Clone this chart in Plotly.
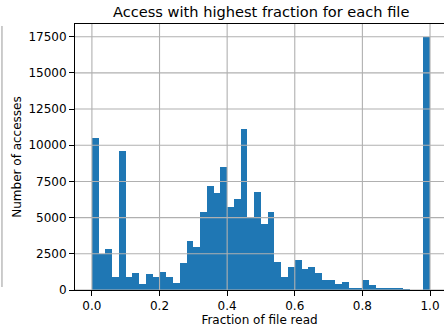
import numpy as np
import plotly.graph_objects as go

# Histogram: 50 bins over [0, 1]
bin_start = 0.0
bin_width = 0.02
counts = [10500, 2480, 2850, 870, 9610, 920, 1200, 440, 1130, 870,
          1265, 870, 510, 1890, 3360, 2990, 5400, 7200, 6720, 8510,
          5750, 6300, 11130, 5060, 6785, 4580, 5400, 1955, 920, 1610,
          2090, 1470, 1610, 1200, 713, 713, 437, 575, 161, 92,
          713, 360, 161, 92, 92, 92, 10, 0, 0, 17460]
x_ticks = [0.0, 0.2, 0.4, 0.6, 0.8, 1.0]
x_ticklabels = ["0.0", "0.2", "0.4", "0.6", "0.8", "1.0"]
y_ticks = [0, 2500, 5000, 7500, 10000, 12500, 15000, 17500]
y_ticklabels = [str(v) for v in y_ticks]

centers = [bin_start + bin_width * (i + 0.5) for i in range(len(counts))]

W, H = 444, 327
ml, mr, mt, mb = 74.6, 0, 24, 36.7
font = "DejaVu Sans"
fs = 12
lw = 1.1

fig = go.Figure()
fig.add_trace(go.Bar(x=centers, y=counts, width=bin_width,
                     marker=dict(color="#1f77b4", line=dict(width=0)),
                     hoverinfo="skip"))

shapes = []
for v in x_ticks:
    shapes.append(dict(type="line", xref="x", yref="paper", x0=v, x1=v, y0=0, y1=1,
                       line=dict(color="#b0b0b0", width=lw), layer="above"))
for v in y_ticks:
    shapes.append(dict(type="line", xref="paper", yref="y", x0=0, x1=1, y0=v, y1=v,
                       line=dict(color="#b0b0b0", width=lw), layer="above"))
# faint vertical line at far left (neighbouring panel edge)
pw = W - ml - mr
ph = H - mt - mb
shapes.append(dict(type="line", xref="paper", yref="paper",
                   x0=(1.5 - ml) / pw, x1=(1.5 - ml) / pw,
                   y0=3 / ph, y1=1.0 - 2 / ph,
                   line=dict(color="#999999", width=1), layer="above"))

fig.update_layout(
    width=W, height=H,
    margin=dict(l=ml, r=mr, t=mt, b=mb, pad=0),
    paper_bgcolor="white", plot_bgcolor="white",
    showlegend=False,
    bargap=0,
    font=dict(family=font, size=fs, color="black"),
    title=dict(text="Access with highest fraction for each file",
               font=dict(family=font, size=14.6, color="black"),
               x=(261 - ml) / pw, xref="paper", xanchor="center",
               y=1 - 12 / H, yref="container", yanchor="middle"),
    shapes=shapes,
    xaxis=dict(range=[-0.05, (W - 91.5) / 338.5], tickvals=x_ticks, ticktext=x_ticklabels,
               showgrid=False, zeroline=False, showline=True, linecolor="black", linewidth=lw,
               mirror=True, ticks="outside", ticklen=4.9, tickwidth=lw, tickcolor="black",
               tickfont=dict(family=font, size=fs, color="black"),
               title=dict(text="Fraction of file read", font=dict(family=font, size=fs, color="black"),
                          standoff=2)),
    yaxis=dict(range=[0, 18376], tickvals=y_ticks, ticktext=y_ticklabels,
               showgrid=False, zeroline=False, showline=True, linecolor="black", linewidth=lw,
               ticks="outside", ticklen=4.9, tickwidth=lw, tickcolor="black",
               tickfont=dict(family=font, size=fs, color="black"),
               title=dict(text="Number of accesses", font=dict(family=font, size=fs, color="black"),
                          standoff=4)),
)

fig.write_html("out.html")
